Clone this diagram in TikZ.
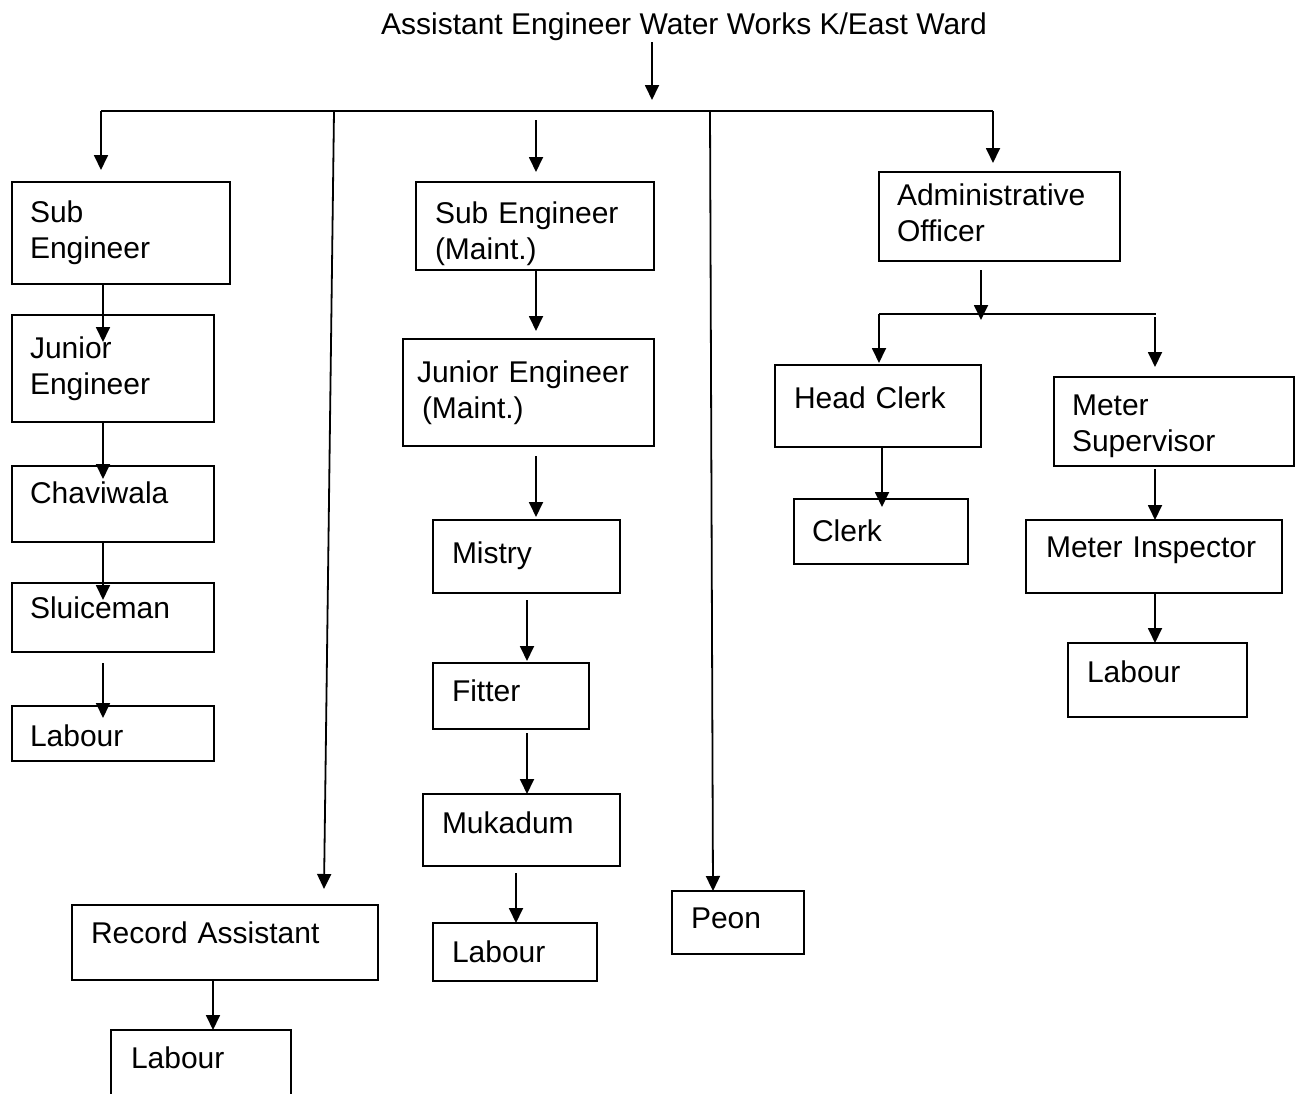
\documentclass[tikz,border=0pt]{standalone}
\usepackage{fontspec}
\setmainfont{Liberation Sans}
\usetikzlibrary{arrows.meta}
\newcommand\orgbox[5]{\node[box, minimum width=#4pt, minimum height=#5pt] (#1) at (#2,#3) {};}
\begin{document}
\begin{tikzpicture}[x=1pt,y=-1pt,
  box/.style={draw, line width=1.8pt, inner sep=0pt, outer sep=0pt, anchor=north west},
  lbl/.style={anchor=base west, inner sep=0pt, outer sep=0pt, text width=330pt, align=left,
              font=\fontsize{30}{36}\selectfont},
  ttl/.style={anchor=base, inner sep=0pt, outer sep=0pt, font=\fontsize{30}{36}\selectfont},
  ln/.style={line width=1.8pt},
  arr/.style={line width=1.8pt, -{Triangle[length=15pt,width=14pt]}}]
\clip (0,0) rectangle (1296,1093);
\fill[white] (0,0) rectangle (1296,1093);

% title
\node[ttl] (title) at (684,34) {Assistant Engineer Water Works K/East Ward};

% boxes: name, left, top, width, height
\orgbox{se1}{12}{182}{218}{102}
\orgbox{je1}{12}{315}{202}{107}
\orgbox{chv}{12}{466}{202}{76}
\orgbox{slu}{12}{583}{202}{69}
\orgbox{labA}{12}{706}{202}{55}
\orgbox{ra}{72}{905}{306}{75}
\orgbox{labB}{111}{1030}{180}{80}
\orgbox{seM}{416}{182}{238}{88}
\orgbox{jeM}{403}{339}{251}{107}
\orgbox{mis}{433}{520}{187}{73}
\orgbox{fit}{433}{663}{156}{66}
\orgbox{muk}{423}{794}{197}{72}
\orgbox{labC}{433}{923}{164}{58}
\orgbox{peon}{672}{891}{132}{63}
\orgbox{ao}{879}{172}{241}{89}
\orgbox{hc}{775}{365}{206}{82}
\orgbox{clk}{794}{499}{174}{65}
\orgbox{ms}{1054}{377}{240}{89}
\orgbox{mi}{1026}{520}{256}{73}
\orgbox{labD}{1068}{643}{179}{74}

% labels
\node[lbl] (se1t) at (30,222) {Sub\\Engineer};
\node[lbl] (je1t) at (30,358) {Junior\\Engineer};
\node[lbl] (chvt) at (30,503) {Chaviwala};
\node[lbl] (slut) at (30,618) {Sluiceman};
\node[lbl] (labAt) at (30,746) {Labour};
\node[lbl] (rat) at (91,943) {Record Assistant};
\node[lbl] (labBt) at (131,1068) {Labour};
\node[lbl] (seMt) at (435,223) {Sub Engineer\\(Maint.)};
\node[lbl] (jeMt) at (417,382) {Junior Engineer\\\hspace*{5pt}(Maint.)};
\node[lbl] (mist) at (452,563) {Mistry};
\node[lbl] (fitt) at (452,701) {Fitter};
\node[lbl] (mukt) at (442,833) {Mukadum};
\node[lbl] (labCt) at (452,962) {Labour};
\node[lbl] (peont) at (691,928) {Peon};
\node[lbl] (aot) at (897,205) {Administrative\\Officer};
\node[lbl] (hct) at (794,408) {Head Clerk};
\node[lbl] (clkt) at (812,541) {Clerk};
\node[lbl] (mst) at (1072,415) {Meter\\Supervisor};
\node[lbl] (mit) at (1046,557) {Meter Inspector};
\node[lbl] (labDt) at (1087,682) {Labour};

% top level
\coordinate (busL) at (101,111);
\coordinate (busR) at (993,111);
\coordinate (busT) at (652,111);
\draw[arr] (652,42) -- ([yshift=11pt]busT);
\draw[ln] (busL) -- (busR);
\draw[arr] (busL) -- ([yshift=12pt]se1.north -| busL);
\draw[arr] (334,111) -- ([yshift=16pt]ra.north -| 324,0);
\draw[arr] (536,120) -- ([yshift=10pt]seM.north -| 536,0);
\draw[arr] (710,111) -- (peon.north -| 713,0);
\draw[arr] (busR) -- ([yshift=9pt]ao.north -| busR);

% left chain
\draw[arr] ([xshift=91pt]se1.south west) -- ++(0,58);
\draw[arr] ([xshift=91pt]je1.south west) -- ++(0,57);
\draw[arr] ([xshift=91pt]chv.south west) -- ++(0,58);
\draw[arr] (103,663) -- ++(0,55);
\draw[arr] ([xshift=141pt]ra.south west) -- ([xshift=102pt]labB.north west);

% middle chain
\draw[arr] ([xshift=120pt]seM.south west) -- ++(0,61);
\draw[arr] (536,456) -- ([yshift=3pt]mis.north -| 536,0);
\draw[arr] (527,600) -- ([yshift=2pt]fit.north -| 527,0);
\draw[arr] (527,733) -- (muk.north -| 527,0);
\draw[arr] (516,873) -- (labC.north -| 516,0);

% right side
\coordinate (brL) at (879,314);
\coordinate (brR) at (1156,314);
\draw[arr] ([xshift=102pt]ao.south west) ++(0,9) -- (981,320);
\draw[ln] (brL) -- (brR);
\draw[arr] (brL) -- ([yshift=2pt]hc.north -| brL);
\draw[arr] (1155,317) -- ([yshift=10pt]ms.north -| 1155,0);
\draw[arr] ([xshift=107pt]hc.south west) -- ++(0,60);
\draw[arr] (1155,469) -- (mi.north -| 1155,0);
\draw[arr] ([xshift=129pt]mi.south west) -- (labD.north -| 1155,0);
\end{tikzpicture}
\end{document}
